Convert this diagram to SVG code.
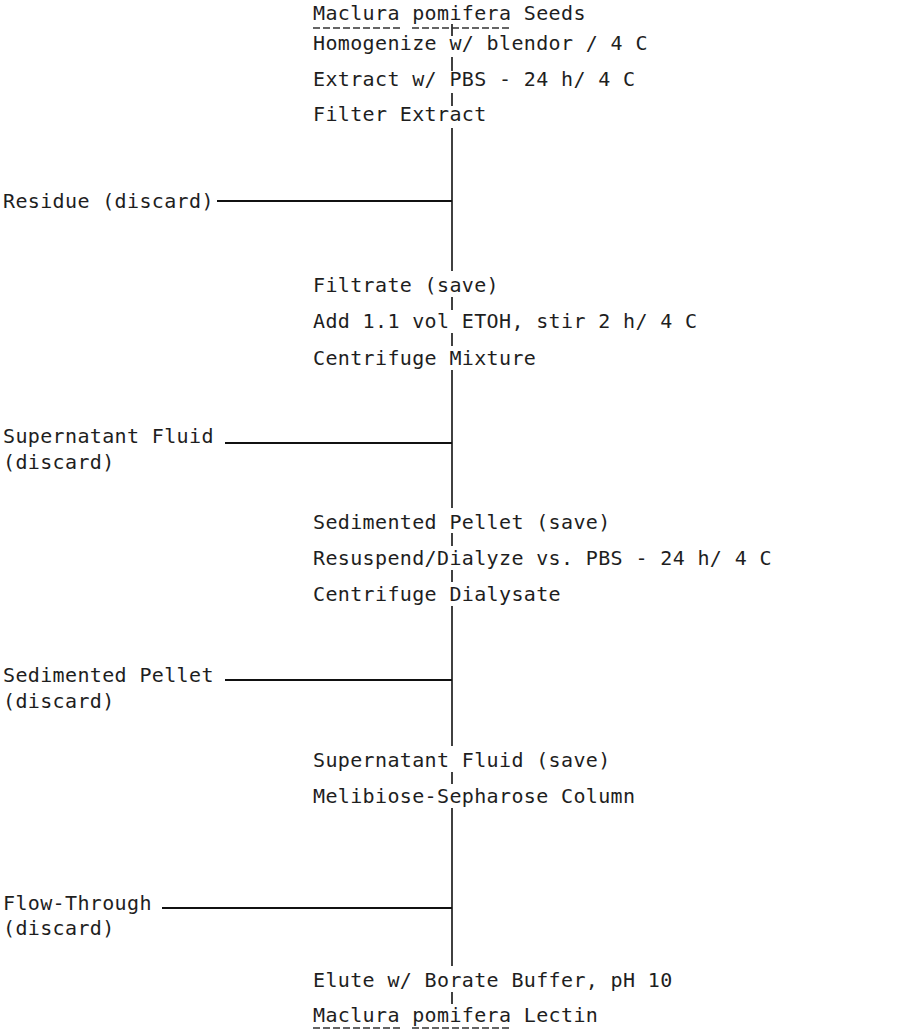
<svg xmlns="http://www.w3.org/2000/svg" width="900" height="1032" viewBox="0 0 900 1032">
<style>
text{font-family:"DejaVu Sans Mono","Liberation Mono",monospace;font-size:20px;letter-spacing:0.36px;fill:#1e1e1e}
.c{stroke:#111;stroke-width:1.6;fill:none}
.h{stroke:#111;stroke-width:2.2;fill:none}
.u{stroke:#333;stroke-width:1.3;stroke-dasharray:7 3;fill:none}
</style>
<rect width="900" height="1032" fill="#fff"/>
<g id="connectors">
<line class="c" x1="452" y1="24" x2="452" y2="36"/>
<line class="c" x1="452" y1="57" x2="452" y2="71"/>
<line class="c" x1="452" y1="93" x2="452" y2="106"/>
<line class="c" x1="452" y1="128" x2="452" y2="271"/>
<line class="h" x1="217" y1="201" x2="452" y2="201"/>
<line class="c" x1="452" y1="297" x2="452" y2="310"/>
<line class="c" x1="452" y1="333" x2="452" y2="346"/>
<line class="c" x1="452" y1="370" x2="452" y2="508"/>
<line class="h" x1="225" y1="443" x2="452" y2="443"/>
<line class="c" x1="452" y1="533" x2="452" y2="546"/>
<line class="c" x1="452" y1="570" x2="452" y2="582"/>
<line class="c" x1="452" y1="606" x2="452" y2="746"/>
<line class="h" x1="225" y1="680" x2="452" y2="680"/>
<line class="c" x1="452" y1="772" x2="452" y2="784"/>
<line class="c" x1="452" y1="808" x2="452" y2="966"/>
<line class="h" x1="162" y1="908" x2="452" y2="908"/>
<line class="c" x1="452" y1="992" x2="452" y2="1004"/>
</g>
<g id="n1"><text x="313" y="20">Maclura pomifera Seeds</text><line class="u" x1="313" y1="28" x2="400" y2="28"/><line class="u" x1="412" y1="28" x2="512" y2="28"/></g>
<g id="n2"><text x="313" y="50">Homogenize w/ blendor / 4 C</text></g>
<g id="n3"><text x="313" y="86">Extract w/ PBS - 24 h/ 4 C</text></g>
<g id="n4"><text x="313" y="121">Filter Extract</text></g>
<g id="d1"><text x="3" y="208">Residue (discard)</text></g>
<g id="n5"><text x="313" y="292">Filtrate (save)</text></g>
<g id="n6"><text x="313" y="328">Add 1.1 vol ETOH, stir 2 h/ 4 C</text></g>
<g id="n7"><text x="313" y="365">Centrifuge Mixture</text></g>
<g id="d2"><text x="3" y="443">Supernatant Fluid</text><text x="3" y="469">(discard)</text></g>
<g id="n8"><text x="313" y="529">Sedimented Pellet (save)</text></g>
<g id="n9"><text x="313" y="565">Resuspend/Dialyze vs. PBS - 24 h/ 4 C</text></g>
<g id="n10"><text x="313" y="601">Centrifuge Dialysate</text></g>
<g id="d3"><text x="3" y="682">Sedimented Pellet</text><text x="3" y="708">(discard)</text></g>
<g id="n11"><text x="313" y="767">Supernatant Fluid (save)</text></g>
<g id="n12"><text x="313" y="803">Melibiose-Sepharose Column</text></g>
<g id="d4"><text x="3" y="910">Flow-Through</text><text x="3" y="935">(discard)</text></g>
<g id="n13"><text x="313" y="987">Elute w/ Borate Buffer, pH 10</text></g>
<g id="n14"><text x="313" y="1022">Maclura pomifera Lectin</text><line class="u" x1="313" y1="1028" x2="400" y2="1028"/><line class="u" x1="412" y1="1028" x2="512" y2="1028"/></g>
</svg>
